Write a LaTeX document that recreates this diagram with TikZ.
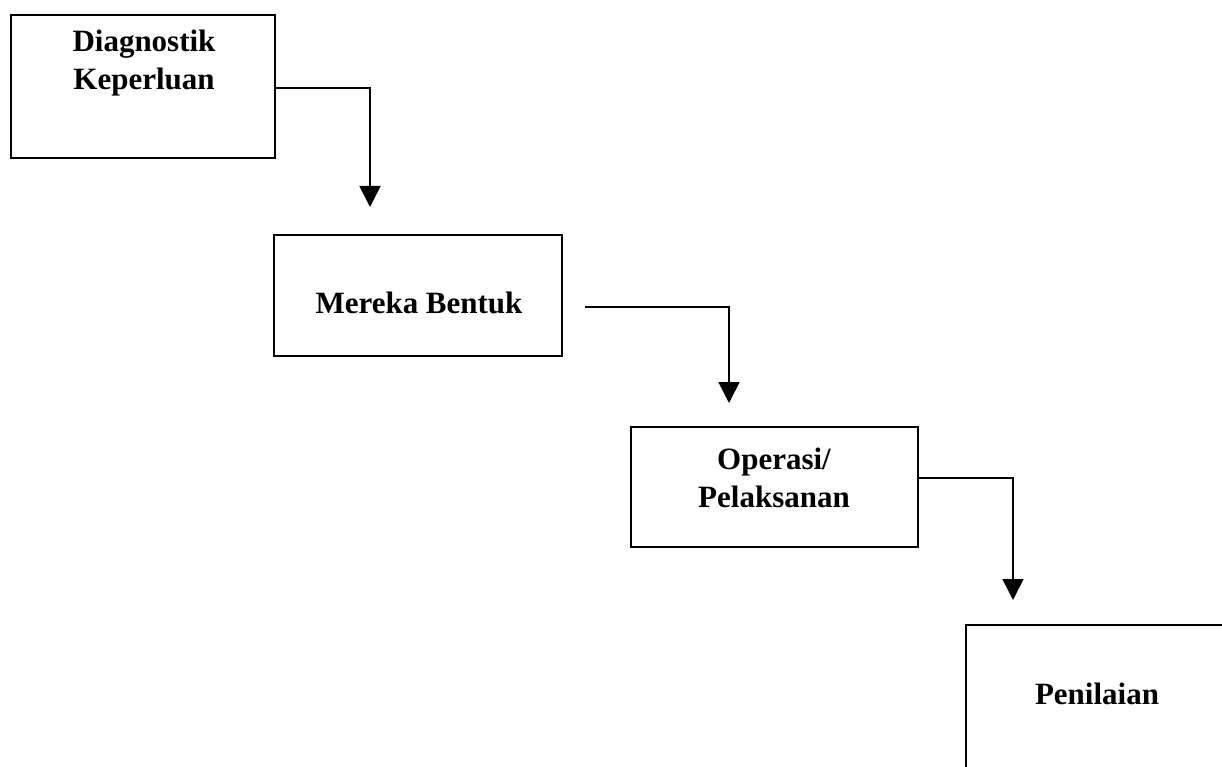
\documentclass[tikz,border=0pt]{standalone}
\usepackage{fontspec}
\setmainfont{Liberation Serif}
\usetikzlibrary{arrows.meta}
\begin{document}
\begin{tikzpicture}[x=1pt,y=1pt,
  box/.style={draw=black, line width=1.6pt, rectangle, inner sep=0pt},
  lbl/.style={font=\fontsize{31}{38}\selectfont\bfseries, align=center, inner sep=0pt},
  conn/.style={draw=black, line width=1.6pt, -{Triangle[width=21pt,length=21pt]}}]
\useasboundingbox (0,0) rectangle (1222,-767);
\clip (0,0) rectangle (1222,-767);
\fill[white] (0,0) rectangle (1222,-767);
% boxes
\node[box, minimum width=264pt, minimum height=143pt] (b1) at (143,-86.5) {};
\node[box, minimum width=288pt, minimum height=121pt] (b2) at (418,-295.5) {};
\node[box, minimum width=287pt, minimum height=120pt] (b3) at (774.5,-487) {};
\node[box, minimum width=300pt, minimum height=170pt] (b4) at (1116,-710) {};
% labels
\node[lbl] (t1) at (144,-63) {Diagnostik\\Keperluan};
\node[lbl] (t2) at (419,-303) {Mereka Bentuk};
\node[lbl] (t3) at (774,-477.5) {Operasi/\\Pelaksanan};
\node[lbl] (t4) at (1097,-694) {Penilaian};
% connector points
\coordinate (s2) at (585,-307);
\coordinate (e1) at (370,-207);
\coordinate (e2) at (729,-403);
\coordinate (e3) at (1013,-600);
% connectors
\draw[conn] ([yshift=-1.5pt]b1.east) -| (e1);
\draw[conn] (s2) -| (e2);
\draw[conn] ([yshift=9pt]b3.east) -| (e3);
\end{tikzpicture}
\end{document}
